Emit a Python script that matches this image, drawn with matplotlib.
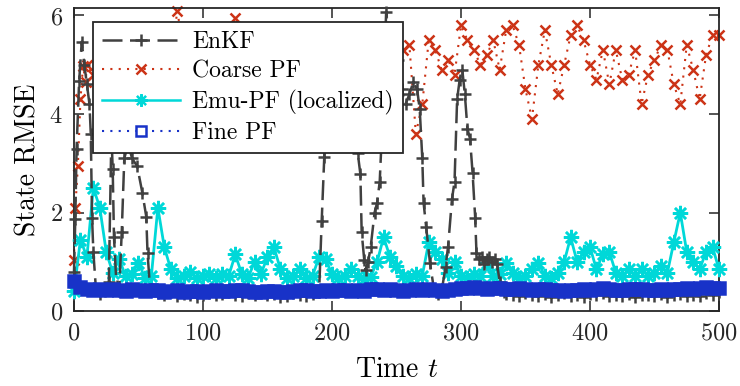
import numpy as np
import matplotlib
matplotlib.use("Agg")
import matplotlib.pyplot as plt
from matplotlib.lines import Line2D

plt.rcParams["font.family"] = "cmr10"
plt.rcParams["mathtext.fontset"] = "cm"
plt.rcParams["axes.formatter.use_mathtext"] = True

# ---- data ----
t_grid = np.arange(0, 501, 5)

t_enkf = [0, 1, 2, 4, 6, 8, 10, 12, 13, 14, 15, 17, 20, 24, 27, 29, 30, 31, 33, 35,
          37, 39, 42, 45, 49, 53, 56, 57, 59,
          65, 70, 75, 80, 85, 90, 95, 100, 105, 110, 115, 120, 125, 130, 135, 140,
          145, 150, 155, 160, 165, 170, 175, 180, 185, 190,
          192, 194, 196, 198, 200, 203, 206, 209, 212, 215, 218, 220, 222, 223, 225,
          226, 228, 230, 233, 235, 237, 239, 242, 245, 248, 251, 254, 257, 260, 263,
          266, 268, 270, 271, 273, 276, 279, 282, 285, 288, 290, 293, 295, 297, 299,
          301, 303, 305, 307, 309, 311, 312, 314, 316, 318, 320, 322, 324, 326, 328,
          330, 333, 335,
          340, 345, 350, 355, 360, 365, 370, 375, 380, 385, 390, 395, 400, 405, 410,
          415, 420, 425, 430, 435, 440, 445, 450, 455, 460, 465, 470, 475, 480, 485,
          490, 495, 500]
enkf = [0.80, 1.86, 3.30, 4.67, 5.47, 5.00, 4.60, 4.20, 3.60, 1.90, 1.20, 0.45, 0.35,
        0.40, 0.60, 3.60, 2.88, 1.50, 0.50, 0.40, 1.60, 3.10, 3.40, 3.10, 2.94, 2.40,
        1.92, 1.18, 0.45,
        0.36, 0.33, 0.38, 0.31, 0.35, 0.33, 0.29, 0.33, 0.37, 0.32, 0.34, 0.39, 0.33,
        0.30, 0.36, 0.33, 0.38, 0.32, 0.34, 0.28, 0.31, 0.36, 0.33, 0.30, 0.35, 0.38,
        1.82, 3.12, 4.20, 5.00, 5.40, 5.00, 4.60, 5.20, 4.80, 4.40, 4.00, 3.20, 2.78,
        1.60, 1.04, 0.84, 1.00, 1.30, 2.00, 2.20, 2.63, 3.80, 6.08, 5.40, 4.80, 5.10,
        4.50, 4.20, 4.40, 4.65, 4.50, 4.10, 3.10, 2.20, 1.70, 0.97, 0.45, 0.35, 0.40,
        0.90, 1.31, 2.27, 2.63, 4.30, 4.70, 4.90, 4.40, 3.70, 3.50, 2.80, 1.90, 1.18,
        1.05, 1.10, 0.95, 1.05, 1.10, 1.00, 1.05, 0.95, 0.60, 0.38, 0.34,
        0.33, 0.31, 0.36, 0.33, 0.30, 0.35, 0.28, 0.33, 0.36, 0.31, 0.33, 0.29, 0.34,
        0.32, 0.36, 0.30, 0.33, 0.31, 0.35, 0.29, 0.33, 0.32, 0.30, 0.34, 0.28, 0.33,
        0.35, 0.31, 0.33, 0.30, 0.36, 0.33, 0.38]

t_coarse = [0, 1, 3, 5, 7, 9] + list(range(10, 501, 5))
coarse = [1.04, 2.10, 2.94, 4.30, 4.98, 4.65,
          5.00, 4.80, 5.20, 4.90, 5.30, 5.10, 4.70, 5.20, 5.00, 5.40,   # 10-55
          5.10, 5.50, 5.20, 4.90, 6.10, 5.30, 5.00, 5.40, 5.20, 4.80,   # 60-105
          5.10, 5.30, 5.60, 5.95, 5.50, 5.10, 5.30, 4.90, 5.20, 5.40,   # 110-155
          5.00, 5.30, 5.10, 4.80, 5.20, 5.50, 5.10, 5.30, 4.90, 5.20,   # 160-205
          5.00, 5.30, 5.40, 5.10, 4.90, 5.20, 5.00, 5.30, 5.10, 5.30,   # 210-255
          5.40, 3.60, 4.20, 5.50, 5.30, 4.90, 5.10, 4.80, 5.80, 5.50,   # 260-305
          5.30, 5.00, 5.20, 5.50, 4.90, 5.70, 5.80, 5.40, 4.50, 3.90,   # 310-355
          5.00, 5.70, 5.00, 4.40, 5.00, 5.60, 5.80, 5.50, 5.00, 4.70,   # 360-405
          5.30, 4.60, 5.30, 4.70, 4.80, 5.30, 4.20, 4.80, 5.10, 5.40,   # 410-455
          5.30, 4.60, 4.20, 5.40, 4.90, 4.30, 5.20, 5.60, 5.60]         # 460-500

emu = [0.40, 1.45, 1.10, 2.50, 2.10, 1.20, 0.78, 1.05, 0.72, 0.76, 0.98, 0.68,   # 0-55
       0.72, 2.10, 1.30, 0.85, 0.68, 0.72, 0.80, 0.68, 0.72, 0.76, 0.68, 0.76,   # 60-115
       0.72, 1.15, 0.76, 0.68, 1.00, 0.76, 1.10, 1.30, 0.85, 0.68, 0.72, 0.85,   # 120-175
       0.68, 0.72, 1.10, 1.05, 0.76, 0.68, 0.72, 0.85, 0.72, 0.66, 0.70, 1.00,   # 180-235
       1.50, 1.10, 0.92, 0.72, 0.68, 0.76, 0.72, 1.40, 1.20, 1.05, 0.78, 1.00,   # 240-295
       0.72, 0.68, 0.76, 0.72, 0.98, 0.72, 0.76, 0.98, 0.78, 0.68, 0.72, 0.85,   # 300-355
       0.98, 0.72, 0.68, 0.78, 1.00, 1.50, 1.00, 1.20, 1.30, 0.85, 1.15, 1.20,   # 360-415
       0.78, 0.72, 0.85, 0.72, 0.85, 0.72, 0.78, 0.92, 0.78, 1.40, 2.00, 1.20,   # 420-475
       1.00, 0.85, 1.20, 1.30, 0.85]                                             # 480-500

fine = [0.62, 0.48, 0.45, 0.42, 0.44, 0.42, 0.45, 0.43, 0.41, 0.44, 0.42, 0.40,
        0.43, 0.42, 0.38, 0.40, 0.42, 0.39, 0.41, 0.40, 0.38, 0.40, 0.42, 0.40,
        0.41, 0.43, 0.42, 0.40, 0.38, 0.39, 0.41, 0.40, 0.38, 0.39, 0.41, 0.43,
        0.42, 0.41, 0.40, 0.42, 0.41, 0.43, 0.42, 0.40, 0.42, 0.41, 0.44, 0.45,
        0.43, 0.44, 0.42, 0.41, 0.43, 0.44, 0.42, 0.44, 0.43, 0.41, 0.42, 0.44,
        0.47, 0.46, 0.48, 0.46, 0.45, 0.47, 0.46, 0.44, 0.45, 0.46, 0.44, 0.43,
        0.45, 0.44, 0.42, 0.43, 0.41, 0.42, 0.43, 0.44, 0.43, 0.45, 0.46, 0.44,
        0.43, 0.42, 0.44, 0.45, 0.44, 0.43, 0.42, 0.44, 0.43, 0.44, 0.45, 0.46,
        0.45, 0.47, 0.48, 0.46, 0.47]

labels = ["EnKF", "Coarse PF", "Emu-PF (localized)", "Fine PF"]
c_enkf = "#404040"
c_coarse = "#CC3316"
c_emu = "#00D8D8"
c_fine = "#1832C8"

fig = plt.figure(figsize=(7.4, 3.86), dpi=100)
ax = fig.add_axes([0.1, 0.194, 0.8716, 0.785])

ax.plot(t_coarse, coarse, color=c_coarse, ls=(0, (1, 3)), lw=1.5,
        marker="x", ms=6.5, mew=1.8, zorder=2, clip_on=False)
ax.plot(t_grid, emu, color=c_emu, ls="-", lw=2.0,
        marker=(8, 2, 0), ms=11, mew=1.8, zorder=3, clip_on=False)
ax.plot(t_enkf, enkf, color=c_enkf, ls=(0, (8, 3)), lw=1.8,
        marker="+", ms=9, mew=1.8, zorder=4, clip_on=False)
ax.plot(t_grid, fine, color=c_fine, ls=(0, (1, 3)), lw=1.5,
        marker="s", ms=8.5, mew=1.8, mfc=c_fine, zorder=5, clip_on=False)

ax.set_xlim(0, 500)
ax.set_ylim(0, 6.15)
ax.set_xticks([0, 100, 200, 300, 400, 500])
ax.set_yticks([0, 2, 4, 6])
ax.tick_params(direction="in", length=7, width=1.1, labelsize=17.5,
               top=True, right=True, pad=8, colors="#262626")
for s in ax.spines.values():
    s.set_linewidth(1.3)
    s.set_color("#262626")
ax.set_xlabel("Time $t$", fontsize=20, labelpad=9)
ax.set_ylabel("State RMSE", fontsize=20, labelpad=6)

handles = [
    Line2D([], [], color=c_enkf, ls=(0, (8, 3)), lw=1.8, marker="+", ms=9, mew=1.8),
    Line2D([], [], color=c_coarse, ls=(0, (1, 3)), lw=1.5, marker="x", ms=6.5, mew=1.8),
    Line2D([], [], color=c_emu, ls="-", lw=1.8, marker=(8, 2, 0), ms=9, mew=1.6),
    Line2D([], [], color=c_fine, ls=(0, (1, 3)), lw=1.5, marker="s", ms=6.5, mew=1.8,
           mfc="white"),
]
leg = ax.legend(handles, labels, loc="upper left", bbox_to_anchor=(0.029, 0.955),
                borderaxespad=0, fontsize=17, fancybox=False, framealpha=1,
                edgecolor="#262626", handlelength=3.3, handletextpad=0.5,
                labelspacing=0.3, borderpad=0.4)
leg.get_frame().set_linewidth(1.3)
leg.set_zorder(10)

fig.savefig("out.png", dpi=100)
